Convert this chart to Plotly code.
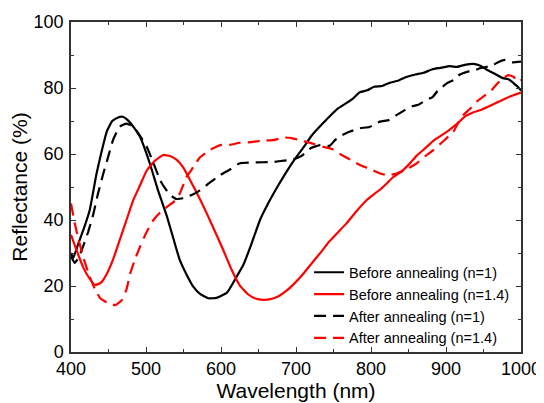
import plotly.graph_objects as go

# Before annealing (n=1) - black solid
wl_b1 = [400, 403, 410, 418, 425, 434, 440, 448, 455, 462, 469, 476, 484, 492, 505, 516, 528, 537, 545, 554, 563, 572, 583, 594, 608, 620, 630, 641, 652, 664, 675, 687, 698, 710, 721, 733, 744, 756, 767, 776, 785, 795, 804, 815, 825, 836, 848, 859, 870, 882, 893, 905, 915, 925, 936, 945, 954, 965, 976, 984, 990, 995, 1000]
r_b1 = [30, 28.5, 33, 38, 43, 54, 60, 67, 70, 71, 71.3, 70.2, 68, 65.2, 57.2, 49, 41, 34, 27.9, 23.5, 19.8, 17.6, 16.3, 16.4, 18, 22.5, 26.5, 33, 40, 45.5, 50, 54.5, 58.3, 62, 65.6, 68.6, 71.2, 73.8, 75.4, 76.8, 78.7, 79.3, 80.4, 80.6, 81.6, 82.2, 83.4, 84.1, 84.6, 85.7, 86.1, 86.6, 86.4, 87.0, 87.3, 86.8, 85.6, 84.3, 83.0, 82.6, 81.5, 80.5, 79.2]

# Before annealing (n=1.4) - red solid
wl_b14 = [400, 408, 416, 424, 432, 440, 448, 456, 465, 474, 483, 492, 501, 512, 523, 532, 541, 550, 559, 570, 581, 592, 603, 614, 625, 636, 646, 656, 666, 676, 687, 698, 710, 721, 733, 744, 756, 767, 780, 794, 804, 813, 822, 830, 840, 850, 861, 872, 883, 895, 905, 915, 925, 936, 948, 959, 970, 981, 990, 1000]
r_b14 = [35.5, 30.5, 25.8, 22.5, 20.3, 21, 23.8, 28, 34, 40, 46, 50.5, 55, 58, 59.7, 59.4, 58.2, 55.8, 52, 47.2, 42, 36.5, 30.9, 25, 20.2, 17.5, 16.2, 15.8, 16, 16.8, 18.5, 20.8, 23.8, 26.9, 30.2, 33.4, 36.3, 38.9, 42.5, 46, 47.8, 49.4, 51.3, 53.1, 54.6, 56.7, 59.5, 61.7, 64, 65.8, 67.4, 69.2, 71.3, 72.6, 73.5, 74.6, 75.8, 77, 77.8, 78.6]

# After annealing (n=1) - black dashed
wl_a1 = [400, 405, 410, 416, 423, 430, 436, 443, 450, 456, 465, 474, 483, 492, 501, 510, 519, 526, 532, 540, 550, 561, 572, 585, 599, 612, 625, 640, 656, 670, 684, 696, 708, 720, 732, 745, 752, 759, 772, 785, 798, 812, 824, 834, 845, 852, 863, 874, 882, 888, 895, 901, 910, 918, 928, 937, 945, 954, 963, 970, 979, 988, 1000]
r_a1 = [29, 27, 28.5, 31.9, 36.5, 42, 48, 54, 59.5, 64.2, 68.3, 69.2, 68.3, 65.5, 62.2, 57.2, 52, 49.4, 47.6, 46.4, 46.6, 47.6, 49, 51.3, 53.6, 55.3, 57.2, 57.4, 57.5, 57.6, 58, 58.3, 59.5, 61.8, 62.7, 62.5, 64.2, 65.4, 66.8, 67.8, 68.2, 69.8, 70.3, 71.8, 73.3, 74.3, 74.9, 76.4, 77.2, 78.9, 80.3, 81.4, 82.4, 84, 84.9, 85.2, 86, 86.4, 87, 87.9, 88.5, 87.8, 88]

# After annealing (n=1.4) - red dashed
wl_a14 = [400, 405, 410, 418, 425, 432, 439, 448, 459, 468, 474, 479, 486, 492, 500, 510, 519, 528, 537, 545, 554, 563, 572, 585, 599, 612, 625, 640, 656, 670, 684, 694, 705, 720, 736, 748, 761, 773, 785, 798, 812, 823, 834, 847, 861, 872, 883, 896, 910, 917, 923, 932, 941, 951, 961, 969, 976, 983, 990, 996, 1000]
r_a14 = [45, 39, 34, 27.5, 22.8, 19, 16.3, 15, 14.2, 15.8, 19, 23.8, 28.5, 31.9, 36, 40, 42.3, 44, 45.5, 48, 53, 56, 59, 61.2, 62.7, 62.8, 63.4, 63.6, 64.1, 64.2, 65, 64.8, 64.2, 63.3, 62.2, 61.5, 59.7, 58.2, 56.7, 55.5, 54.1, 53.6, 54.1, 55.3, 57.2, 59.3, 61.2, 63.8, 66.8, 69.8, 71.8, 73.7, 75.9, 77.6, 79.4, 81.5, 82.9, 83.9, 83.4, 81.9, 82.5]

FONT = "Liberation Sans, Arial, sans-serif"
DASH = "12px,7px"

fig = go.Figure()
series = [
    ("Before annealing (n=1)", wl_b1, r_b1, "black", "solid"),
    ("Before annealing (n=1.4)", wl_b14, r_b14, "#ff0000", "solid"),
    ("After annealing (n=1)", wl_a1, r_a1, "black", DASH),
    ("After annealing (n=1.4)", wl_a14, r_a14, "#ff0000", DASH),
]
for name, x, y, col, dash in series:
    fig.add_trace(go.Scatter(
        x=x, y=y, mode="lines", name=name,
        line=dict(color=col, width=2.2, dash=dash, shape="spline", smoothing=0.4),
    ))

axis_common = dict(
    showgrid=False, zeroline=False, showline=True, linecolor="#333333", linewidth=1.5,
    mirror="allticks", ticks="inside", ticklen=5, tickwidth=1, tickcolor="#333333",
    tickfont=dict(family=FONT, size=18, color="black"), automargin=False,
)
fig.update_xaxes(
    range=[400, 1000], tickmode="array", tickvals=[400, 500, 600, 700, 800, 900, 1000],
    minor=dict(ticks="inside", ticklen=3, dtick=50, tick0=400, tickcolor="#333333", showgrid=False),
    title=dict(text="Wavelength (nm)", font=dict(family=FONT, size=21, color="black"), standoff=2),
    ticklabelstandoff=0,
    **axis_common,
)
fig.update_yaxes(
    range=[0, 100], tickmode="array", tickvals=[0, 20, 40, 60, 80, 100],
    minor=dict(ticks="inside", ticklen=3, dtick=10, tick0=0, tickcolor="#333333", showgrid=False),
    title=dict(text="Reflectance (%)", font=dict(family=FONT, size=21, color="black"), standoff=6),
    ticklabelstandoff=2,
    **axis_common,
)
# the page body adds an 8px offset, so the figure is sized 536x395
fig.update_layout(
    width=536, height=395,
    margin=dict(l=63, r=23, t=14, b=51, autoexpand=False),
    paper_bgcolor="white", plot_bgcolor="white",
    showlegend=True,
    legend=dict(
        x=0.529, y=0.29, xanchor="left", yanchor="top",
        bgcolor="rgba(0,0,0,0)", borderwidth=0,
        font=dict(family=FONT, size=14.5, color="black"),
        tracegroupgap=0, itemwidth=30,
    ),
)
fig.write_html("out.html")
